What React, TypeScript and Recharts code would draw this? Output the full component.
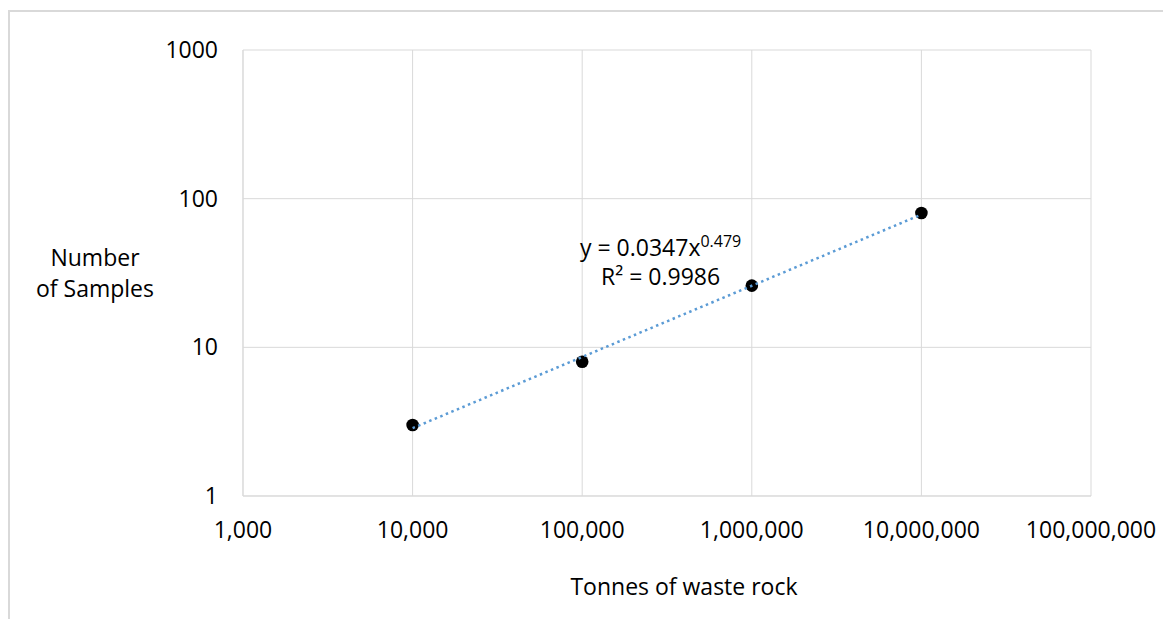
import {
  ScatterChart,
  Scatter,
  XAxis,
  YAxis,
  CartesianGrid,
  ReferenceDot,
} from 'recharts'

// tick values
const xTicks = [1000, 10000, 100000, 1000000, 10000000, 100000000]
const yTicks = [1, 10, 100, 1000]

// measured samples
const tonnes = [10000, 100000, 1000000, 10000000]
const samples = [3, 8, 26, 80]

// power trendline end points (y = 0.0347x^0.479)
const trendTonnes = [10000, 10000000]
const trendSamples = [2.86, 78.2]

const points = tonnes.map((t, i) => ({ x: t, y: samples[i] }))
const trend = trendTonnes.map((t, i) => ({ x: t, y: trendSamples[i] }))

const font = "'Open Sans', sans-serif"
const gridColor = '#d9d9d9'

const formatTonnes = (v) => v.toLocaleString('en-US')

const EquationLabel = ({ viewBox }) => {
  const { x, y } = viewBox
  return (
    <text fontFamily={font} fontSize={23} fill="#000" textAnchor="middle">
      <tspan x={x} y={y - 9}>
        y = 0.0347x
        <tspan dy={-9} fontSize={16}>
          0.479
        </tspan>
      </tspan>
      <tspan x={x} y={y + 20}>
        R² = 0.9986
      </tspan>
    </text>
  )
}

const YTitle = () => (
  <text fontFamily={font} fontSize={23} fill="#000" textAnchor="middle">
    <tspan x={95} y={266}>
      Number
    </tspan>
    <tspan x={95} y={297}>
      of Samples
    </tspan>
  </text>
)

const XTitle = () => (
  <text
    x={684}
    y={595}
    fontFamily={font}
    fontSize={23}
    fill="#000"
    textAnchor="middle"
  >
    Tonnes of waste rock
  </text>
)

export default function App() {
  return (
    <div
      style={{
        position: 'fixed',
        left: 0,
        top: 0,
        width: 1163,
        height: 619,
        background: '#fff',
        overflow: 'hidden',
      }}
    >
      <div
        style={{
          position: 'absolute',
          left: 8,
          top: 10,
          width: 1200,
          height: 700,
          borderTop: `2px solid ${gridColor}`,
          borderLeft: `2px solid ${gridColor}`,
        }}
      />
      <div style={{ position: 'absolute', left: 0, top: 0 }}>
        <ScatterChart
          width={1163}
          height={619}
          margin={{ top: 50, right: 72, bottom: 83, left: 183 }}
        >
          <CartesianGrid stroke={gridColor} />
          <XAxis
            dataKey="x"
            type="number"
            scale="log"
            domain={[1000, 100000000]}
            ticks={xTicks}
            allowDataOverflow
            tickFormatter={formatTonnes}
            tickLine={false}
            tickSize={0}
            tickMargin={26}
            height={40}
            stroke={gridColor}
            tick={{ fill: '#000', fontSize: 23, fontFamily: font }}
            label={{ content: <XTitle /> }}
          />
          <YAxis
            dataKey="y"
            type="number"
            scale="log"
            domain={[1, 1000]}
            ticks={yTicks}
            allowDataOverflow
            tickLine={false}
            tickSize={0}
            tickMargin={25}
            width={60}
            stroke={gridColor}
            tick={{ fill: '#000', fontSize: 23, fontFamily: font }}
            label={{ content: <YTitle /> }}
          />
          <Scatter
            data={points}
            fill="#000"
            shape={(p) => <circle cx={p.cx} cy={p.cy} r={6.3} fill="#000" />}
            isAnimationActive={false}
          />
          <Scatter
            data={trend}
            line={{
              stroke: '#5b9bd5',
              strokeWidth: 2.5,
              strokeDasharray: '2.5 3.5',
            }}
            shape={() => null}
            isAnimationActive={false}
          />
          <ReferenceDot
            x={290000}
            y={36}
            r={0}
            fill="none"
            stroke="none"
            label={{ content: <EquationLabel /> }}
          />
        </ScatterChart>
      </div>
    </div>
  )
}
